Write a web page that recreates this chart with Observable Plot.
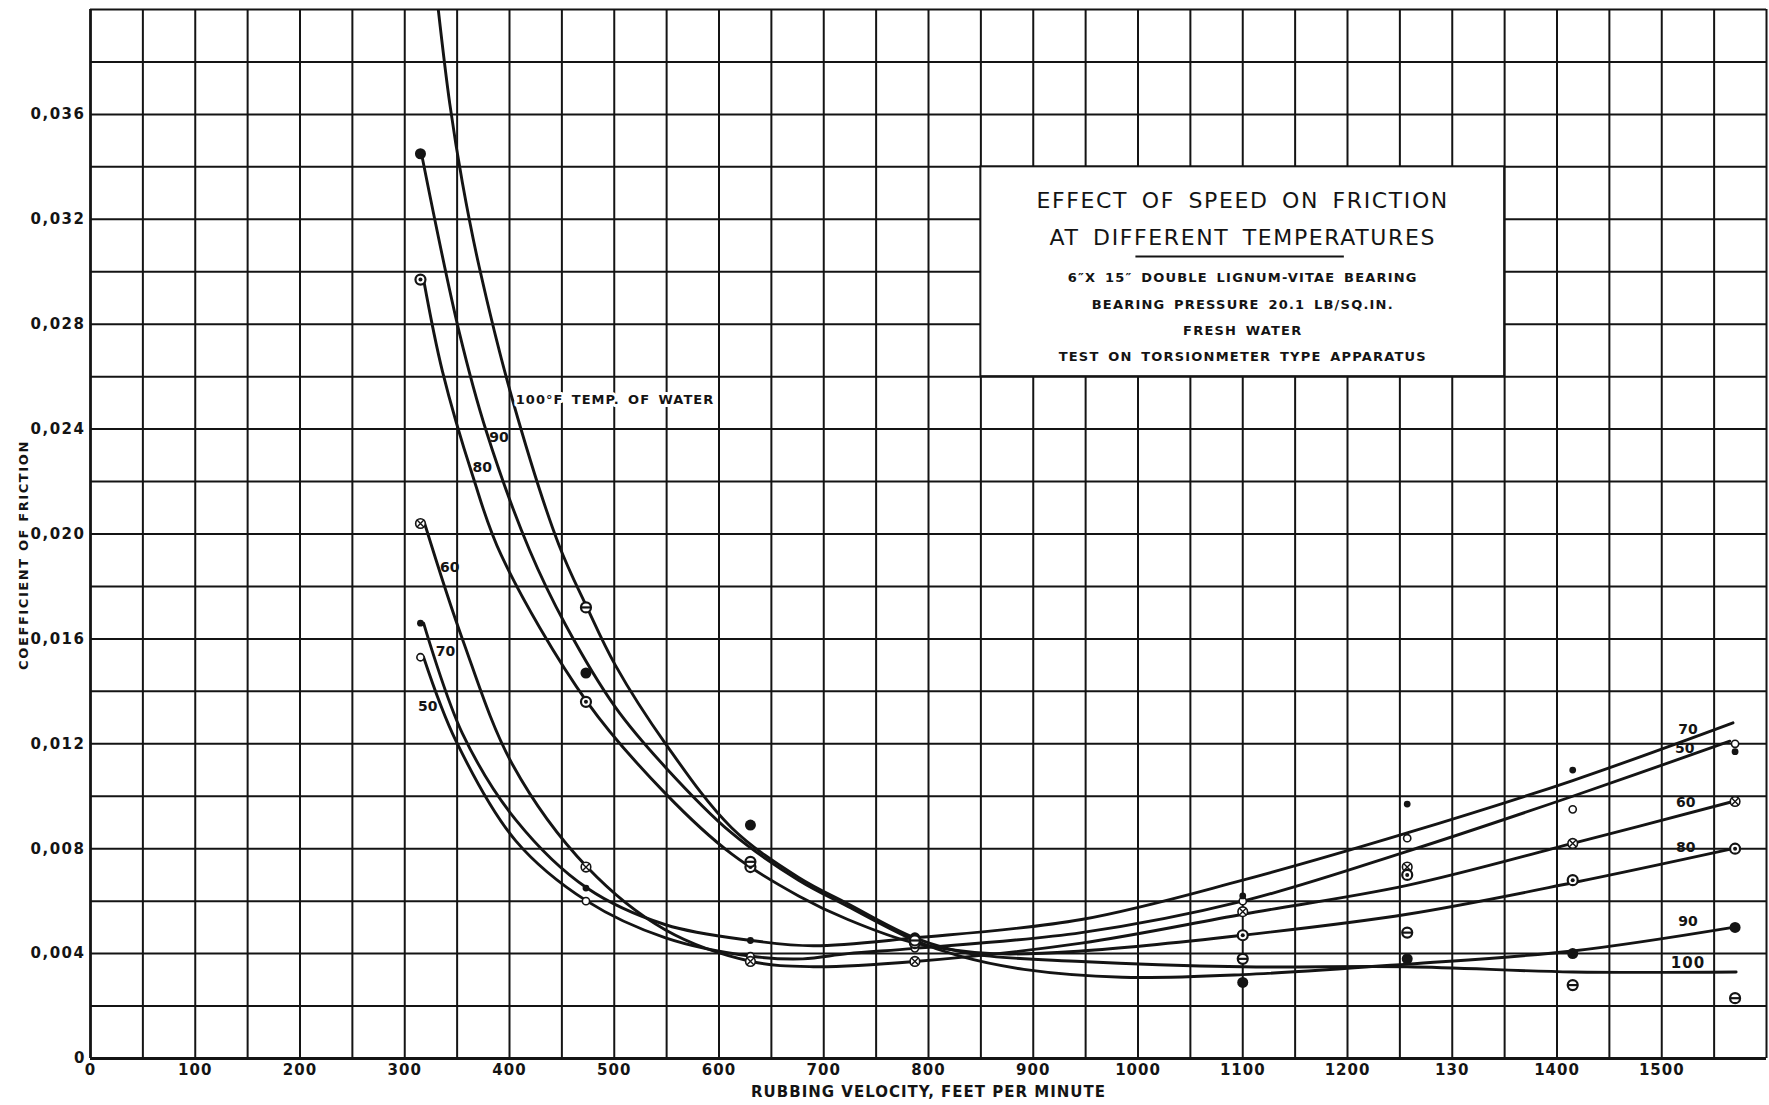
<!DOCTYPE html>
<html><head><meta charset="utf-8">
<script src="https://cdn.jsdelivr.net/npm/d3@7"></script>
<script src="https://cdn.jsdelivr.net/npm/@observablehq/plot@0.6"></script>
<style>
body{margin:0;background:#fff;}
svg{background:#fff;}
</style></head><body><div id="chart"></div>
<script>
// ---- tick values and labels ----
const xTicks = [0,100,200,300,400,500,600,700,800,900,1000,1100,1200,1300,1400,1500];
const xTickLabels = ["0","100","200","300","400","500","600","700","800","900","1000","1100","1200","130","1400","1500"];
const yTicks = [0,0.004,0.008,0.012,0.016,0.020,0.024,0.028,0.032,0.036];
const yTickLabels = ["0","0,004","0,008","0,012","0,016","0,020","0,024","0,028","0,032","0,036"];
const xGrid = d3.range(0, 33).map(i => i * 50);
const yGrid = d3.range(0, 21).map(i => i * 0.002);

// ---- faired curves, per water temperature ----
const curve50 = [[318,0.0153],[349,0.0121],[406,0.0083],[474,0.0060],[549,0.0046],[631,0.0039],[680,0.0038],[723,0.0040],[787,0.0042],[946,0.0048],[1100,0.0060],[1257,0.0079],[1415,0.0100],[1565,0.0121]];
const curve60 = [[319,0.0204],[355,0.0160],[403,0.0112],[474,0.0073],[549,0.0049],[631,0.0037],[690,0.0035],[787,0.0037],[946,0.0044],[1100,0.0055],[1257,0.0066],[1415,0.0082],[1568,0.0098]];
const curve70 = [[318,0.0166],[355,0.0124],[406,0.0091],[474,0.0065],[549,0.0051],[631,0.0045],[690,0.0043],[787,0.0046],[946,0.0053],[1100,0.0068],[1257,0.0086],[1415,0.0106],[1568,0.0128]];
const curve80 = [[318,0.0297],[336,0.0262],[365,0.0222],[392,0.0192],[474,0.0136],[549,0.0101],[612,0.0078],[676,0.0062],[723,0.0053],[787,0.0044],[862,0.0040],[946,0.0041],[1100,0.0047],[1257,0.0055],[1415,0.0067],[1568,0.0080]];
const curve90 = [[316,0.0345],[352,0.0277],[378,0.0239],[419,0.0194],[454,0.0165],[501,0.0134],[549,0.0111],[612,0.0086],[676,0.0068],[723,0.0058],[787,0.0045],[830,0.0039],[891,0.0034],[985,0.0031],[1100,0.0032],[1257,0.0036],[1415,0.0041],[1568,0.0050]];
const curve100 = [[332,0.0400],[343,0.0364],[355,0.0334],[371,0.0302],[403,0.0251],[447,0.0196],[474,0.0172],[501,0.0150],[549,0.0120],[612,0.0088],[676,0.0069],[723,0.0059],[787,0.0046],[840,0.0040],[946,0.0037],[1100,0.0035],[1257,0.0035],[1415,0.0033],[1571,0.0033]];

// ---- test points, per water temperature ----
const pts50 = [[315,0.0153],[473,0.0060],[630,0.0039],[787,0.0042],[1100,0.0060],[1257,0.0084],[1415,0.0095],[1570,0.0120]];
const pts60 = [[315,0.0204],[473,0.0073],[630,0.0037],[787,0.0037],[1100,0.0056],[1257,0.0073],[1415,0.0082],[1570,0.0098]];
const pts70 = [[315,0.0166],[473,0.0065],[630,0.0045],[787,0.0046],[1100,0.0062],[1257,0.0097],[1415,0.0110],[1570,0.0117]];
const pts80 = [[315,0.0297],[473,0.0136],[630,0.0073],[787,0.0044],[1100,0.0047],[1257,0.0070],[1415,0.0068],[1570,0.0080]];
const pts90 = [[315,0.0345],[473,0.0147],[630,0.0089],[787,0.0046],[1100,0.0029],[1257,0.0038],[1415,0.0040],[1570,0.0050]];
const pts100 = [[473,0.0172],[630,0.0075],[787,0.0045],[1100,0.0038],[1257,0.0048],[1415,0.0028],[1570,0.0023]];

// ---- curve labels ----
const leftLabels = [
  {t:"90", x:390, y:0.02367}, {t:"80", x:374, y:0.02252}, {t:"60", x:343, y:0.01874},
  {t:"70", x:339, y:0.0155}, {t:"50", x:322, y:0.01344}
];
const rightLabels = [
  {t:"70", x:1525, y:0.01256}, {t:"50", x:1522, y:0.01183}, {t:"60", x:1523, y:0.00977},
  {t:"80", x:1523, y:0.00806}, {t:"90", x:1525, y:0.00523}, {t:"100", x:1525, y:0.00363}
];
const mainLabel = [{t:"100°F TEMP. OF WATER", x:406, y:0.02512}];

// ---- title block text ----
const titleLines = [
  {t:"EFFECT OF SPEED ON FRICTION", x:1100, y:0.03269},
  {t:"AT DIFFERENT TEMPERATURES", x:1100, y:0.03130}
];
const noteLines = [
  {t:"6″X 15″ DOUBLE LIGNUM-VITAE BEARING", x:1100, y:0.02978},
  {t:"BEARING PRESSURE 20.1 LB/SQ.IN.", x:1100, y:0.02875},
  {t:"FRESH WATER", x:1100, y:0.02776},
  {t:"TEST ON TORSIONMETER TYPE APPARATUS", x:1100, y:0.02676}
];
const xTitle = "RUBBING VELOCITY, FEET PER MINUTE";
const yTitle = "COEFFICIENT OF FRICTION";

const toRows = (arr) => arr.map(([x, y]) => ({x, y}));
const curves = [[50,curve50],[60,curve60],[70,curve70],[80,curve80],[90,curve90],[100,curve100]]
  .flatMap(([temp, arr]) => arr.map(([x, y]) => ({temp, x, y})));

const barSymbol = {draw(ctx, size) { const r = Math.sqrt(size / Math.PI); ctx.moveTo(-r, 0); ctx.lineTo(r, 0); }};
const ink = "#141414";
const letterFont = "'DejaVu Sans', 'Liberation Sans', sans-serif";

const chart = Plot.plot({
  width: 1769,
  height: 1105,
  marginLeft: 90,
  marginRight: 3,
  marginTop: 9,
  marginBottom: 47,
  style: {fontFamily: letterFont, fontSize: "14px", fontWeight: "bold", color: ink, background: "#fff"},
  x: {domain: [0, 1600]},
  y: {domain: [0, 0.040]},
  marks: [
    Plot.ruleX(xGrid, {stroke: ink, strokeWidth: 2}),
    Plot.ruleY(yGrid, {stroke: ink, strokeWidth: 2}),
    Plot.ruleY([0], {stroke: ink, strokeWidth: 3}),
    Plot.ruleX([0], {stroke: ink, strokeWidth: 2.6}),
    Plot.rect([{}], {x1: () => 850, x2: () => 1350, y1: () => 0.026, y2: () => 0.034, fill: "#fff", stroke: ink, strokeWidth: 2}),
    Plot.line(curves, {x: "x", y: "y", z: "temp", curve: "catmull-rom", stroke: ink, strokeWidth: 2.9, clip: true}),
    // 50: open circle
    Plot.dot(toRows(pts50), {x: "x", y: "y", r: 3.6, fill: "#fff", stroke: ink, strokeWidth: 1.6}),
    // 70: small filled dot
    Plot.dot(toRows(pts70), {x: "x", y: "y", r: 3.4, fill: ink}),
    // 60: circle with cross
    Plot.dot(toRows(pts60), {x: "x", y: "y", r: 4.8, fill: "#fff", stroke: ink, strokeWidth: 1.6}),
    Plot.dot(toRows(pts60), {x: "x", y: "y", r: 3.4, symbol: "times", stroke: ink, strokeWidth: 1.4}),
    // 80: circle with centre dot
    Plot.dot(toRows(pts80), {x: "x", y: "y", r: 5, fill: "#fff", stroke: ink, strokeWidth: 2.2}),
    Plot.dot(toRows(pts80), {x: "x", y: "y", r: 2, fill: ink}),
    // 90: large filled dot
    Plot.dot(toRows(pts90), {x: "x", y: "y", r: 5.5, fill: ink}),
    // 100: circle with bar
    Plot.dot(toRows(pts100), {x: "x", y: "y", r: 5, fill: "#fff", stroke: ink, strokeWidth: 2.2}),
    Plot.dot(toRows(pts100), {x: "x", y: "y", r: 5, symbol: barSymbol, stroke: ink, strokeWidth: 2.2}),
    // curve labels
    Plot.text(mainLabel, {x: "x", y: "y", text: "t", textAnchor: "start", fontSize: 13, fontWeight: "bold", fontFamily: letterFont, fill: ink, stroke: "#fff", strokeWidth: 6}),
    Plot.text(leftLabels, {x: "x", y: "y", text: "t", fontSize: 14, fontWeight: "bold", fontFamily: letterFont, fill: ink}),
    Plot.text(rightLabels, {x: "x", y: "y", text: "t", fontSize: 14, fontWeight: "bold", fontFamily: letterFont, fill: ink}),
    // title block
    Plot.text(titleLines, {x: "x", y: "y", text: "t", fontSize: 22, fontWeight: "normal", fontFamily: letterFont, fill: ink}),
    Plot.ruleY([0.03058], {x1: () => 998, x2: () => 1197, stroke: ink, strokeWidth: 2}),
    Plot.text(noteLines, {x: "x", y: "y", text: "t", fontSize: 13, fontWeight: "bold", fontFamily: letterFont, fill: ink}),
    // axes
    Plot.axisX({ticks: xTicks, tickFormat: (d) => xTickLabels[xTicks.indexOf(d)], tickSize: 0, tickPadding: 6, fontSize: 15, fontWeight: "bold", fontFamily: letterFont,
      label: xTitle, labelAnchor: "center", labelOffset: 38, labelArrow: "none"}),
    Plot.axisY({ticks: yTicks, tickFormat: (d) => yTickLabels[yTicks.indexOf(d)], tickSize: 0, tickPadding: 5, fontSize: 15, fontWeight: "bold", fontFamily: letterFont,
      label: yTitle, labelAnchor: "center", labelOffset: 72, labelArrow: "none"})
  ]
});

document.getElementById("chart").appendChild(chart);

// lettering: spacing and size, matched by text content
function styleText(strings, props, attrs = {}) {
  const set = new Set(strings);
  chart.querySelectorAll("text").forEach(t => {
    if (set.has(t.textContent)) {
      Object.assign(t.style, props);
      for (const [k, v] of Object.entries(attrs)) t.setAttribute(k, v);
    }
  });
}
styleText(titleLines.map(d => d.t), {fontFamily: letterFont, letterSpacing: "1.6px", wordSpacing: "5px", fontWeight: "normal", fontSize: "22px"});
styleText(noteLines.map(d => d.t), {fontFamily: letterFont, letterSpacing: "1.2px", wordSpacing: "3px", fontSize: "13px"});
styleText(mainLabel.map(d => d.t), {fontFamily: letterFont, letterSpacing: "1px", wordSpacing: "3px", fontSize: "13px"});
styleText([xTitle], {fontFamily: letterFont, letterSpacing: "1px", fontSize: "15px", fontWeight: "bold"});
styleText([yTitle], {fontFamily: letterFont, letterSpacing: "1.6px", fontSize: "13px", fontWeight: "bold"}, {dx: "-21"});
styleText(yTickLabels.slice(1), {fontFamily: letterFont, letterSpacing: "1.5px", fontSize: "15px", fontWeight: "bold"});
styleText(xTickLabels, {fontFamily: letterFont, letterSpacing: "1px", fontSize: "15px", fontWeight: "bold"});
</script>
</body></html>
